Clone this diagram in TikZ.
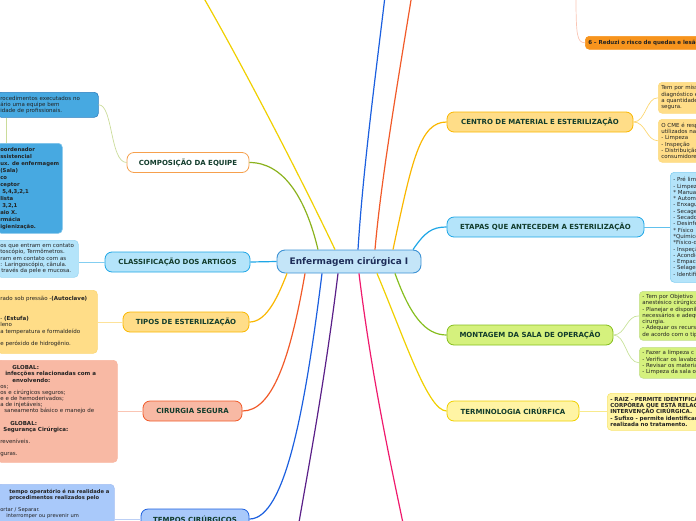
\documentclass[tikz,border=0pt]{standalone}
\usepackage{fontspec}
\setmainfont{DejaVu Sans}

\definecolor{hubfill}{HTML}{C4E5F8}
\definecolor{hubline}{HTML}{3D92D4}
\definecolor{hubtext}{HTML}{1E2D58}
\definecolor{topictext}{HTML}{123C2C}
\definecolor{leaftext}{HTML}{222222}
\definecolor{eqline}{HTML}{F6A04D}
\definecolor{greenline}{HTML}{8BB21E}
\definecolor{cyanfill}{HTML}{B4E4FA}
\definecolor{cyanline}{HTML}{1EA6E6}
\definecolor{goldfill}{HTML}{FFDD88}
\definecolor{goldline}{HTML}{FAB700}
\definecolor{salmfill}{HTML}{F8B9A4}
\definecolor{salmline}{HTML}{F15A29}
\definecolor{bluefill}{HTML}{A9C9FA}
\definecolor{blueline}{HTML}{1B5FDF}
\definecolor{purpline}{HTML}{5A1F88}
\definecolor{pinkline}{HTML}{EF1A6D}
\definecolor{lemonfill}{HTML}{FFF4A4}
\definecolor{lemonline}{HTML}{F0D000}
\definecolor{limefill}{HTML}{D5F17D}
\definecolor{limeline}{HTML}{86BE1E}
\definecolor{skyfill}{HTML}{47A9E1}
\definecolor{skyline}{HTML}{2B7EBE}
\definecolor{tanfill}{HTML}{F7941D}

\begin{document}
\begin{tikzpicture}[x=1pt, y=-1pt,
    hub/.style={draw=hubline, fill=hubfill, line width=0.9pt, rounded corners=8pt,
      minimum width=144pt, minimum height=23pt, text=hubtext,
      font=\fontsize{9}{11}\selectfont\bfseries},
    topic/.style={line width=0.8pt, rounded corners=7pt, minimum height=20pt,
      inner sep=0pt, text=topictext, font=\fontsize{7}{8}\selectfont\bfseries},
    leaf/.style={anchor=north west, rounded corners=4pt, line width=0.6pt,
      inner sep=3pt, align=left, text=leaftext, font=\fontsize{5.5}{6.3}\selectfont},
    branch/.style={line width=1.2pt},
    twig/.style={line width=0.7pt}]
  \useasboundingbox (0,0) rectangle (696,520);
  \clip (0,0) rectangle (696,520);

  \node[hub] (hub) at (349,261.5) {Enfermagem cirúrgica I};

  % topics on the left
  \node[topic, draw=eqline, fill=white, minimum width=122pt] (equipe) at (188,162.5) {COMPOSIÇÃO DA EQUIPE};
  \node[topic, draw=cyanline, fill=cyanfill, minimum width=145pt] (artigos) at (177.5,262) {CLASSIFICAÇÃO DOS ARTIGOS};
  \node[topic, draw=goldline, fill=goldfill, minimum width=126pt] (tipos) at (186,322) {TIPOS DE ESTERILIZAÇÃO};
  \node[topic, draw=salmline, fill=salmfill, minimum width=99pt] (segura) at (192.5,411) {CIRURGIA SEGURA};
  \node[topic, draw=blueline, fill=bluefill, minimum width=108pt] (tempos) at (195,519) {TEMPOS CIRÚRGICOS};

  % topics on the right
  \node[topic, draw=goldline, fill=goldfill, minimum width=186pt] (centro) at (540,122) {CENTRO DE MATERIAL E ESTERILIZAÇÃO};
  \node[topic, draw=cyanline, fill=cyanfill, minimum width=197pt] (etapas) at (545.5,227) {ETAPAS QUE ANTECEDEM A ESTERILIZAÇÃO};
  \node[topic, draw=limeline, fill=limefill, minimum width=166pt] (montagem) at (530,335) {MONTAGEM DA SALA DE OPERAÇÃO};
  \node[topic, draw=lemonline, fill=lemonfill, minimum width=132pt] (termos) at (513,411) {TERMINOLOGIA CIRÚRFICA};

  % notes on the left
  \node[leaf, draw=skyline, fill=skyfill, text width=95pt, minimum height=25pt] (equipeA) at (-3,92)
    {rocedimentos executados no\\ário uma equipe bem\\idade de profissionais.};
  \node[leaf, draw=skyfill!70, fill=skyfill, text width=59pt, minimum height=90pt,
    font=\fontsize{5.3}{7}\selectfont\bfseries] (equipeB) at (-3,143)
    {oordenador\\ssistencial\\ux. de enfermagem\\(Sala)\\co\\ceptor\\\hspace*{2pt}5,4,3,2,1\\lista\\\hspace*{2pt}3,2,1\\aio X.\\rmácia\\igienização.};
  \node[leaf, draw=cyanline!45, fill=cyanfill, text width=75pt, minimum height=37pt] (artigosA) at (-3,240)
    {os que entram em contato\\toscópio, Termômetros.\\ram em contato com as\\: Laringoscópio, cânula.\\\hspace*{1pt}través da pele e mucosa.};
  \node[leaf, draw=goldline!55, fill=goldfill, text width=94pt, minimum height=63pt,
    font=\fontsize{5.5}{6.45}\selectfont] (tiposA) at (-3,290)
    {rado sob pressão -\textbf{(Autoclave)}\\\mbox{}\\\mbox{}\\- \textbf{(Estufa)}\\leno\\a temperatura e formaldeído\\\mbox{}\\e peróxido de hidrogênio.};
  \node[leaf, draw=salmline!45, fill=salmfill, text width=114pt, minimum height=102pt,
    font=\fontsize{5.5}{6.15}\selectfont] (seguraA) at (-3,360)
    {\hspace*{12pt}\textbf{GLOBAL:}\\\hspace*{5pt}\textbf{infecções relacionadas com a}\\\hspace*{12pt}\textbf{envolvendo:}\\os;\\os e cirúrgicos seguros;\\e e de hemoderivados;\\a de injetáveis;\\\hspace*{4pt}saneamento básico e manejo de\\\mbox{}\\\hspace*{10pt}\textbf{GLOBAL:}\\\hspace*{3pt}\textbf{Segurança Cirúrgica:}\\\mbox{}\\reveníveis.\\\mbox{}\\guras.};
  \node[leaf, draw=blueline!40, fill=bluefill, text width=111pt, inner ysep=5pt,
    font=\fontsize{5.2}{6.1}\selectfont] (temposA) at (-3,484)
    {\hspace*{9pt}\textbf{tempo operatório é na realidade a}\\\hspace*{9pt}\textbf{procedimentos realizados pelo}\\\mbox{}\\ortar / Separar.\\\hspace*{6pt}interromper ou prevenir um};

  % notes on the right
  \node[leaf, draw=goldline!50, fill=goldfill, text width=80pt, minimum height=31pt] (centroA) at (658,82)
    {Tem por missão\\diagnóstico e\\a quantidade\\segura.};
  \node[leaf, draw=goldline!50, fill=goldfill, text width=80pt, minimum height=43pt] (centroB) at (658,119)
    {O CME é resp\\utilizados nas\\- Limpeza\\- Inspeção\\- Distribuição\\consumidores};
  \node[leaf, draw=cyanline!55, fill=cyanfill, text width=80pt, minimum height=110pt] (etapasA) at (670,172)
    {- Pré limpeza\\- Limpeza\\{*} Manual\\{*} Automatizada\\- Enxague\\- Secagem\\- Secadora\\- Desinfecção\\{*} Físico\\{*}Químico\\{*}Físico-químico\\- Inspeção\\- Acondicionamento\\- Empacotamento\\- Selagem\\- Identificação};
  \node[leaf, draw=limeline!50, fill=limefill, text width=90pt, minimum height=49pt] (montagemA) at (639,291)
    {- Tem por Objetivo\\anestésico cirúrgico\\- Planejar e disponibilizar\\necessários e adequados\\cirurgia.\\- Adequar os recursos\\de acordo com o tipo};
  \node[leaf, draw=limeline!50, fill=limefill, text width=90pt, minimum height=31pt] (montagemB) at (639,347)
    {- Fazer a limpeza c\\- Verificar os lavabos\\- Revisar os materiais\\- Limpeza da sala o};
  \node[leaf, draw=lemonline!55, fill=lemonfill, text width=120pt, minimum height=37pt,
    font=\fontsize{5.5}{6.3}\selectfont\bfseries] (termosA) at (607,393)
    {- RAIZ - PERMITE IDENTIFICAR\\CORPÓREA QUE ESTÁ RELACIONADA\\INTERVENÇÃO CIRÚRGICA.\\- Sufixo - permite identificar\\realizada no tratamento.};
  \node[leaf, draw=tanfill, fill=tanfill, text width=200pt, minimum height=13pt, inner ysep=2pt,
    font=\fontsize{5.5}{6.3}\selectfont\bfseries] (quedas) at (585,36)
    {6 – Reduzi o risco de quedas e lesão por pressão};

  % free ends beyond the frame
  \coordinate (upYellow) at (198,-12);
  \coordinate (upBlue) at (386,-12);
  \coordinate (upRed) at (413,-12);
  \coordinate (downPurple) at (298,528);
  \coordinate (downPink) at (404,528);
  \coordinate (upQuedas) at (576,-5);

  % branches from the hub
  \draw[branch, greenline] ([xshift=-31pt]hub.north) .. controls (305,195) and (282,162.5) .. (equipe.east);
  \draw[branch, lemonline] ([xshift=-14pt]hub.north) .. controls (302,180) and (240,60) .. (upYellow);
  \draw[branch, blueline] ([xshift=9pt]hub.north) .. controls (363,170) and (375,80) .. (upBlue);
  \draw[branch, salmline] ([xshift=26pt]hub.north) .. controls (381,180) and (398,80) .. (upRed);
  \draw[branch, goldline] ([xshift=44pt]hub.north) .. controls (412,160) and (420,122) .. (centro.west);
  \draw[branch, cyanline] ([xshift=64pt]hub.north) .. controls (425,232) and (432,227) .. (etapas.west);
  \draw[branch, cyanline] (hub.west) -- (artigos.east);
  \draw[branch, goldline] ([xshift=-62pt]hub.south) .. controls (276,302) and (265,322) .. (tipos.east);
  \draw[branch, salmline] ([xshift=-44pt]hub.south) .. controls (290,360) and (272,411) .. (segura.east);
  \draw[branch, blueline] ([xshift=-27pt]hub.south) .. controls (305,410) and (285,519) .. (tempos.east);
  \draw[branch, purpline] ([xshift=-11pt]hub.south) .. controls (325,380) and (308,470) .. (downPurple);
  \draw[branch, pinkline] ([xshift=10pt]hub.south) .. controls (372,380) and (392,470) .. (downPink);
  \draw[branch, lemonline] ([xshift=28pt]hub.south) .. controls (405,340) and (428,411) .. (termos.west);
  \draw[branch, limeline] ([xshift=46pt]hub.south) .. controls (410,315) and (425,335) .. (montagem.west);

  % twigs to the notes
  \draw[twig, greenline!45] (equipe.west) .. controls (110,162.5) and (113,104.5) .. (equipeA.east);
  \draw[twig, greenline!45] ([xshift=9pt]equipeA.south west) -- ([xshift=9pt]equipeB.north west);
  \draw[twig, cyanline!55] (artigos.west) -- (artigos.west -| artigosA.east);
  \draw[twig, goldline!40] (tipos.west) -- (tipos.west -| tiposA.east);
  \draw[twig, salmline!35] (segura.west) -- (segura.west -| seguraA.east);
  \draw[twig, blueline!30] (tempos.west) -- (tempos.west -| temposA.east);
  \draw[twig, goldline!55] (centro.east) .. controls (646,122) and (646,97.5) .. (centroA.west);
  \draw[twig, goldline!55] (centro.east) .. controls (646,122) and (646,140.5) .. (centroB.west);
  \draw[twig, cyanline!70] (etapas.east) -- (etapas.east -| etapasA.west);
  \draw[twig, limeline!45] (montagem.east) .. controls (626,335) and (626,315.5) .. (montagemA.west);
  \draw[twig, limeline!45] (montagem.east) .. controls (626,335) and (626,362.5) .. (montagemB.west);
  \draw[twig, lemonline!45] (termos.east) -- (termos.east -| termosA.west);
  \draw[twig, salmline!35] (upQuedas) .. controls (576,36) and (577,42.5) .. (quedas.west);
\end{tikzpicture}
\end{document}
